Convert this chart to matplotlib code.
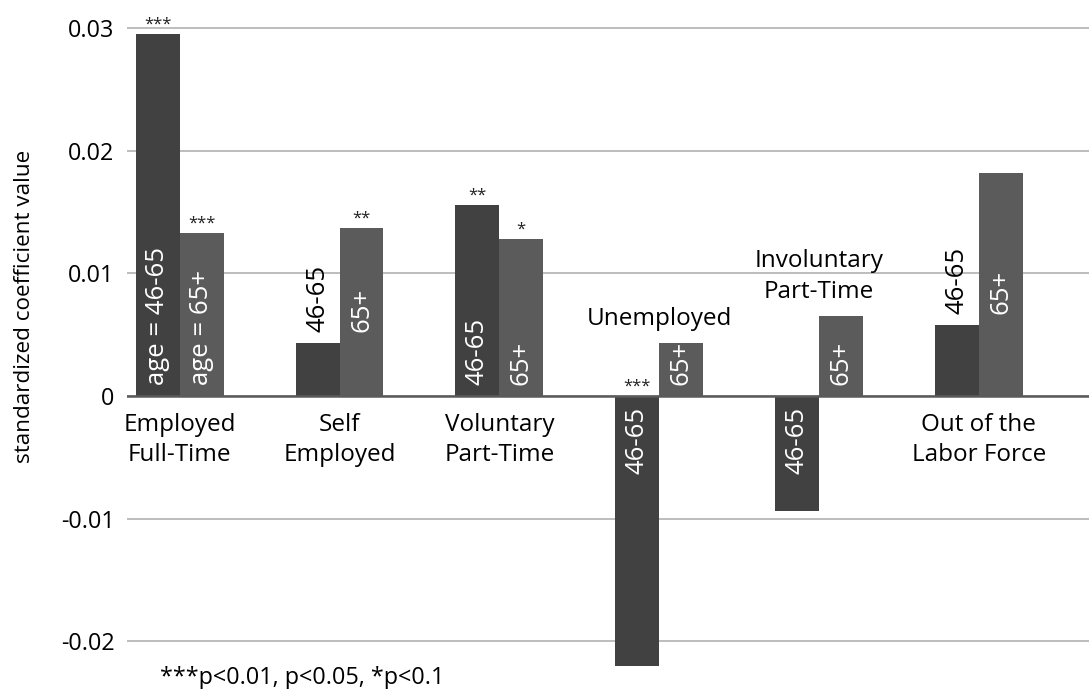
import numpy as np
import matplotlib
matplotlib.use("Agg")
import matplotlib.pyplot as plt

plt.rcParams['font.family'] = ['Open Sans', 'DejaVu Sans']

categories = ["Employed\nFull-Time", "Self\nEmployed", "Voluntary\nPart-Time",
              "Unemployed", "Involuntary\nPart-Time", "Out of the\nLabor Force"]
age_46_65 = [0.0295, 0.0043, 0.0156, -0.0220, -0.0094, 0.0058]
age_65_plus = [0.0133, 0.0137, 0.0128, 0.0043, 0.0065, 0.0182]
stars_46_65 = ["***", "", "**", "***", "", ""]
stars_65_plus = ["***", "**", "*", "", "", ""]
labels_46_65 = ["age = 46-65", "46-65", "46-65", "46-65", "46-65", "46-65"]
labels_65_plus = ["age = 65+", "65+", "65+", "65+", "65+", "65+"]
yticks = [-0.02, -0.01, 0, 0.01, 0.02, 0.03]
ytick_labels = ["-0.02", "-0.01", "0", "0.01", "0.02", "0.03"]

W, H = 1089, 689
fig = plt.figure(figsize=(W / 100, H / 100), dpi=100)
ylo, yhi = -0.0222, 0.0305
top_px, bot_px = 21.8, 668.4
ax = fig.add_axes([127 / W, (H - bot_px) / H, 1 - 127 / W, (bot_px - top_px) / H])

x = np.arange(len(categories))
w = 0.275
dark = "#414141"
mid = "#5b5b5b"
ax.bar(x - w / 2, age_46_65, w, color=dark, zorder=3)
ax.bar(x + w / 2, age_65_plus, w, color=mid, zorder=3)

ax.set_xlim(-0.33, 5.69)
ax.set_ylim(ylo, yhi)
ax.set_yticks(yticks)
ax.set_yticklabels(ytick_labels, fontsize=16.8)
ax.set_xticks([])
ax.tick_params(axis='y', length=0, pad=9)
for s in ax.spines.values():
    s.set_visible(False)
ax.yaxis.grid(True, color="#b8b8b8", lw=1.3, zorder=0)
ax.axhline(0, color="#5a5a5a", lw=1.8, zorder=4)

fig.text(25 / W, 1 - 306 / H, "standardized coefficient value", fontsize=16.2,
         rotation=90, ha="center", va="center")

in_size = 18.5
off = 8  # points between bar edge / zero line and the rotated labels

for i in range(len(categories)):
    a, b = age_46_65[i], age_65_plus[i]
    # a short positive 46-65 bar gets its label above it, and the 65+ label follows
    outside = 0 < a < 0.008
    base = a if outside else 0.0
    if a >= 0:
        ax.annotate(labels_46_65[i], (x[i] - w / 2, base), xytext=(0, off),
                    textcoords="offset points", rotation=90, ha="center", va="bottom",
                    fontsize=in_size, color="black" if outside else "white", zorder=5)
    else:
        ax.annotate(labels_46_65[i], (x[i] - w / 2, 0), xytext=(0, -off),
                    textcoords="offset points", rotation=90, ha="center", va="top",
                    fontsize=in_size, color="white", zorder=5)
    ax.annotate(labels_65_plus[i], (x[i] + w / 2, base), xytext=(0, off),
                textcoords="offset points", rotation=90, ha="center", va="bottom",
                fontsize=in_size, color="white", zorder=5)

    # significance stars
    for val, st, xx in ((a, stars_46_65[i], x[i] - w / 2), (b, stars_65_plus[i], x[i] + w / 2)):
        if st:
            ax.annotate(st, (xx, max(val, 0)), xytext=(0, 1), textcoords="offset points",
                        ha="center", va="bottom", fontsize=12, color="#222222", zorder=5)

    # category label: below the zero line, or above the bars if the group dips negative
    if min(a, b) < 0:
        ax.annotate(categories[i], (x[i], max(a, b)), xytext=(0, 9),
                    textcoords="offset points", ha="center", va="bottom",
                    fontsize=17.5, linespacing=1.35, color="black")
    else:
        ax.annotate(categories[i], (x[i], 0), xytext=(0, -12),
                    textcoords="offset points", ha="center", va="top",
                    fontsize=17.5, linespacing=1.35, color="black")

fig.text(160 / W, 1 - 678 / H, "***p<0.01, p<0.05, *p<0.1", fontsize=16.8,
         ha="left", va="center", color="black")

fig.savefig("out.png", dpi=100)
